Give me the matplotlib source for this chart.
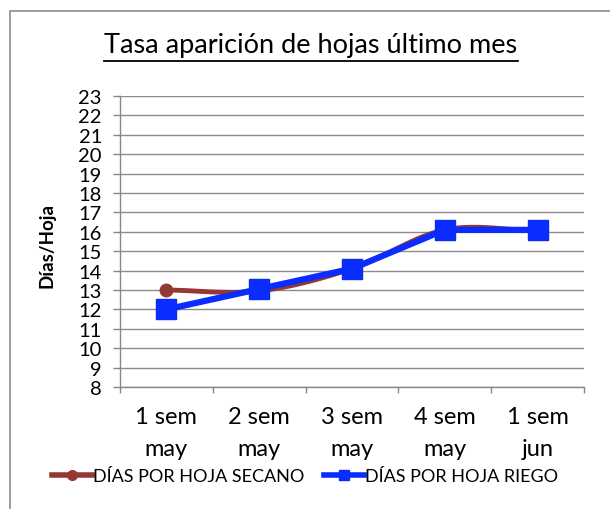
import numpy as np
import matplotlib
matplotlib.use("Agg")
import matplotlib.pyplot as plt
from matplotlib.patches import Rectangle
from matplotlib.lines import Line2D

categories = ["1 sem\nmay", "2 sem\nmay", "3 sem\nmay", "4 sem\nmay", "1 sem\njun"]
secano = [13.0, 12.95, 14.1, 16.1, 16.05]
riego = [12.0, 13.05, 14.1, 16.1, 16.1]
yticks = list(range(8, 24))

plt.rcParams['font.family'] = ['Lato', 'DejaVu Sans']

fig = plt.figure(figsize=(6.1, 5.1), dpi=100)
W, H = 610, 510
ax = fig.add_axes([120 / W, 1 - 388 / H, (584 - 120) / W, (388 - 97) / H])

# outer chart border
fig.patches.append(Rectangle((10 / W, -0.05), 1.0, 1 - 12 / H + 0.05, transform=fig.transFigure,
                             fill=False, edgecolor='#8c8c8c', linewidth=1.2))

x = np.arange(len(categories)) + 0.5

def catmull_rom(xs, ys, n=30):
    xs = np.asarray(xs, float); ys = np.asarray(ys, float)
    px = np.concatenate([[2 * xs[0] - xs[1]], xs, [2 * xs[-1] - xs[-2]]])
    py = np.concatenate([[2 * ys[0] - ys[1]], ys, [2 * ys[-1] - ys[-2]]])
    ox, oy = [], []
    for i in range(1, len(px) - 2):
        t = np.linspace(0, 1, n, endpoint=False)
        for p, o in ((px, ox), (py, oy)):
            p0, p1, p2, p3 = p[i - 1], p[i], p[i + 1], p[i + 2]
            o.extend(0.5 * (2 * p1 + (-p0 + p2) * t + (2 * p0 - 5 * p1 + 4 * p2 - p3) * t ** 2
                            + (-p0 + 3 * p1 - 3 * p2 + p3) * t ** 3))
    ox.append(xs[-1]); oy.append(ys[-1])
    return np.array(ox), np.array(oy)

red = '#953735'
blue = '#0a2cff'
sx, sy = catmull_rom(x, secano)
ax.plot(sx, sy, color=red, linewidth=3.5, solid_capstyle='round', zorder=3)
ax.plot(x, secano, linestyle='none', marker='o', markersize=9, color=red, zorder=3)
ax.plot(x, riego, color=blue, linewidth=4.5, marker='s', markersize=15,
        markeredgecolor='#0a2cee', zorder=4)

ax.set_xlim(0, 5)
ax.set_ylim(8, 23)
ax.set_yticks(yticks)
ax.set_xticks(np.arange(0, 6))
ax.set_xticklabels([])
ax.set_xticks(x, minor=True)
ax.set_xticklabels(categories, minor=True, fontsize=17, linespacing=1.6)
ax.tick_params(axis='x', which='minor', length=0, pad=14)
ax.tick_params(axis='x', which='major', length=4.5, color='#868686', width=1)
ax.tick_params(axis='y', length=5, color='#868686', width=1, labelsize=14.5, pad=8)
ax.yaxis.grid(True, color='#8c8c8c', linewidth=1)
ax.set_axisbelow(True)
for s in ['top', 'right']:
    ax.spines[s].set_visible(False)
for s in ['left', 'bottom']:
    ax.spines[s].set_color('#868686')
    ax.spines[s].set_linewidth(1)

fig.text(47 / W, 1 - 246 / H, "Días/Hoja", rotation=90, ha='center', va='center',
         fontsize=13.5, fontweight='bold')

t = fig.text(311 / W, 1 - 45 / H, "Tasa aparición de hojas último mes", ha='center', va='center',
             fontsize=19.5)
fig.canvas.draw()
bb = t.get_window_extent().transformed(fig.transFigure.inverted())
fig.add_artist(Line2D([bb.x0, bb.x1], [1 - 62 / H, 1 - 62 / H], transform=fig.transFigure,
                      color='black', linewidth=1.3))

handles = [Line2D([], [], color=red, linewidth=4, marker='o', markersize=7),
           Line2D([], [], color=blue, linewidth=4, marker='s', markersize=7)]
fig.legend(handles, ["DÍAS POR HOJA SECANO", "DÍAS POR HOJA RIEGO"], loc='center',
           bbox_to_anchor=(305 / W, 1 - 477 / H), ncol=2, frameon=False, fontsize=13,
           handlelength=2.2, handletextpad=0.05, columnspacing=1.1)

fig.savefig("out.png", dpi=100)
